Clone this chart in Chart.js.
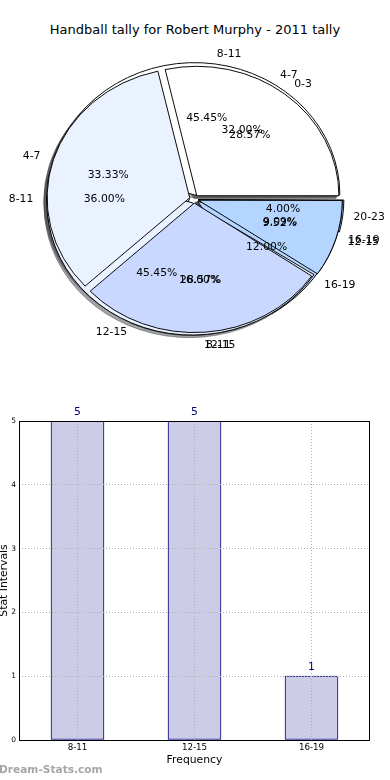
<!DOCTYPE html>
<html><head><meta charset="utf-8">
<script src="https://cdn.jsdelivr.net/npm/chart.js@4/dist/chart.umd.min.js"></script>
<style>
html,body{margin:0;padding:0;background:#fff;width:390px;height:780px;overflow:hidden;position:relative;font-family:'DejaVu Sans',sans-serif;}
.box{position:absolute;}
#title{position:absolute;left:0;width:390px;top:21px;text-align:center;font-size:13px;color:#000;line-height:18px;white-space:nowrap;}
#wm{position:absolute;left:-1px;top:763px;font-size:10.6px;font-weight:bold;color:#a6a6a6;white-space:nowrap;}
</style></head><body>
<div id="title">Handball tally for Robert Murphy - 2011 tally</div>
<div class="box" id="pieWrap" style="left:-1px;top:39px;width:390px;height:320px;"></div>
<div class="box" style="left:0;top:400px;width:390px;height:380px;"><canvas id="bar"></canvas></div>
<div id="wm">Dream-Stats.com</div>
<script>
// ---- data ----
const pieALabels = ['8-11', '12-15', '16-19'];
const pieAValues = [5, 5, 1];
const pieBLabels = ['0-3', '4-7', '8-11', '12-15'];
const pieBValues = [6, 7, 6, 2];
const pieCLabels = ['4-7', '8-11', '12-15', '16-19', '20-23'];
const pieCValues = [8, 9, 4, 3, 1];
const sliceColors = ['#ffffff', '#eaf1ff', '#c8d8ff', '#b3d5ff', '#a3c8ff'];
const barCategories = ['8-11', '12-15', '16-19'];
const barValues = [5, 5, 1];
const yTickMax = 5;

// ---- geometry ----
const R = 142, SY = 0.911, EXPLODE = 4.5;
const SHADOW_DX = -2.84, SHADOW_DY = 2.59;
Chart.defaults.font.family = "'DejaVu Sans', sans-serif";

function shade(hex) {
  const n = parseInt(hex.slice(1), 16);
  const r = Math.round(((n >> 16) & 255) * 0.3), g = Math.round(((n >> 8) & 255) * 0.3), b = Math.round((n & 255) * 0.3);
  return `rgba(${r},${g},${b},0.5)`;
}

const ellipse = {
  id: 'ellipse',
  beforeDatasetsDraw(chart, args, opts) {
    const a = chart.chartArea, cx = (a.left + a.right) / 2, cy = (a.top + a.bottom) / 2;
    const ctx = chart.ctx; ctx.save();
    ctx.translate(cx + (opts.dx || 0), cy + (opts.dy || 0)); ctx.scale(1, SY); ctx.translate(-cx, -cy);
  },
  afterDatasetsDraw(chart) { chart.ctx.restore(); }
};

const pieCharts = [];
const labelPlugin = {
  id: 'pieLabels',
  afterDraw(chart) {
    const ctx = chart.ctx, a = chart.chartArea;
    const cx = (a.left + a.right) / 2, cy = (a.top + a.bottom) / 2;
    ctx.save();
    ctx.font = "10.8px 'DejaVu Sans'"; ctx.fillStyle = '#000'; ctx.textBaseline = 'middle';
    pieCharts.forEach(pc => {
      const meta = pc.getDatasetMeta(0), ds = pc.data.datasets[0];
      const total = ds.data.reduce((s, v) => s + v, 0);
      meta.data.forEach((arc, i) => {
        const mid = (arc.startAngle + arc.endAngle) / 2, c = Math.cos(mid), s = Math.sin(mid);
        const r = arc.outerRadius;
        const dl = EXPLODE + 1.1 * r, dp = EXPLODE + 0.6 * r;
        ctx.textAlign = dl * c > 0 ? 'left' : 'right';
        ctx.fillText(pc.data.labels[i], cx + dl * c, cy + dl * s * SY);
        ctx.textAlign = 'center';
        ctx.fillText((ds.data[i] / total * 100).toFixed(2) + '%', cx + dp * c, cy + dp * s * SY);
      });
    });
    ctx.restore();
  }
};

function makePie(pie, shadow) {
  const wrap = document.getElementById('pieWrap');
  const div = document.createElement('div');
  div.style.cssText = 'position:absolute;left:0;top:0;width:390px;height:320px;';
  const cv = document.createElement('canvas'); div.appendChild(cv); wrap.appendChild(div);
  const labels = pie.labels.slice().reverse();
  const data = pie.values.slice().reverse();
  const cols = pie.values.map((v, i) => sliceColors[i % sliceColors.length]).reverse();
  return new Chart(cv, {
    type: 'pie',
    data: { labels, datasets: [{ data,
      backgroundColor: shadow ? cols.map(shade) : cols,
      borderColor: shadow ? cols.map(shade) : '#000',
      borderWidth: 1, borderJoinStyle: 'miter', offset: EXPLODE * 4, hoverOffset: 0 }] },
    options: { responsive: true, maintainAspectRatio: false, animation: false, events: [],
      radius: R, rotation: 90, layout: { padding: 0 },
      plugins: { legend: { display: false }, tooltip: { enabled: false },
        ellipse: shadow ? { dx: SHADOW_DX, dy: SHADOW_DY } : { dx: 0, dy: 0 } } },
    plugins: [ellipse]
  });
}

const pies = [
  { labels: pieCLabels, values: pieCValues },
  { labels: pieALabels, values: pieAValues },
  { labels: pieBLabels, values: pieBValues }
];
pies.forEach(p => makePie(p, true));
pies.forEach(p => pieCharts.push(makePie(p, false)));
// text layer above all wedges
(function () {
  const wrap = document.getElementById('pieWrap');
  const div = document.createElement('div');
  div.style.cssText = 'position:absolute;left:0;top:0;width:390px;height:320px;';
  const cv = document.createElement('canvas'); div.appendChild(cv); wrap.appendChild(div);
  new Chart(cv, { type: 'pie', data: { labels: [], datasets: [{ data: [] }] },
    options: { responsive: true, maintainAspectRatio: false, animation: false, events: [],
      plugins: { legend: { display: false }, tooltip: { enabled: false } } },
    plugins: [labelPlugin] });
})();

// ---- bar chart ----
const frame = {
  id: 'frame',
  afterDraw(chart) {
    const a = chart.chartArea, ctx = chart.ctx;
    ctx.save(); ctx.strokeStyle = '#000'; ctx.lineWidth = 1;
    ctx.strokeRect(Math.round(a.left) + 0.5, Math.round(a.top) + 0.5, Math.round(a.right - a.left) - 1, Math.round(a.bottom - a.top));
    ctx.restore();
  }
};
const valueLabels = {
  id: 'valueLabels',
  afterDraw(chart) {
    const ctx = chart.ctx, meta = chart.getDatasetMeta(0);
    ctx.save(); ctx.font = "10.8px 'DejaVu Sans'"; ctx.fillStyle = '#000080';
    ctx.textAlign = 'center'; ctx.textBaseline = 'middle';
    meta.data.forEach((bar, i) => ctx.fillText(String(chart.data.datasets[0].data[i]), bar.x, bar.y - 9));
    ctx.restore();
  }
};
new Chart(document.getElementById('bar'), {
  type: 'bar',
  data: { labels: barCategories, datasets: [{ data: barValues, backgroundColor: '#ccccE6', borderColor: '#000080',
    borderWidth: 1, borderSkipped: false, barThickness: 53 }] },
  options: { responsive: true, maintainAspectRatio: false, animation: false, events: [],
    layout: { padding: { top: 21, right: 20, left: 0, bottom: 0 } },
    plugins: { legend: { display: false }, tooltip: { enabled: false } },
    scales: {
      x: { grid: { offset: false, color: '#b0b0b0', drawTicks: false, z: 1 }, border: { display: false, dash: [1, 2] },
        ticks: { font: { size: 8.7 }, color: '#000', padding: 3 },
        title: { display: true, text: 'Frequency', font: { size: 10.8, lineHeight: 1.2 }, color: '#000', padding: { top: 0, bottom: 13 } },
        afterFit(s) { s.height = 40; } },
      y: { min: 0, max: yTickMax, ticks: { stepSize: 1, font: { size: 7.5 }, color: '#000', padding: 3 },
        grid: { color: '#b0b0b0', drawTicks: false, z: 1 }, border: { display: false, dash: [1, 2] },
        title: { display: true, text: 'Stat Intervals', font: { size: 10.8, lineHeight: 0.7 }, color: '#000', padding: 0 },
        afterFit(s) { s.width = 19; } }
    }
  },
  plugins: [frame, valueLabels]
});
</script>
</body></html>
